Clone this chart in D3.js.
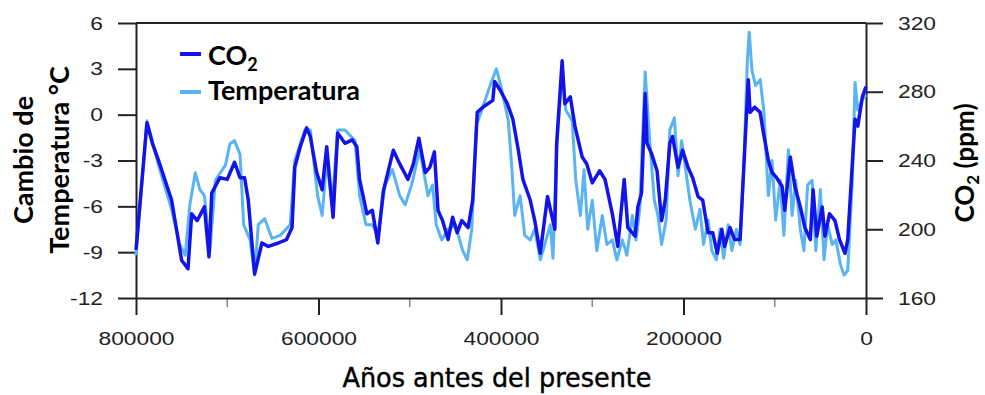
<!DOCTYPE html>
<html>
<head>
<meta charset="utf-8">
<script src="https://cdn.jsdelivr.net/npm/d3@7"></script>
<style>
  html, body { margin: 0; padding: 0; background: #fff; }
  svg { display: block; }
  .tick text { font-family: "Liberation Sans", Arial, sans-serif; font-size: 19px; fill: #222; }
  .title { font-family: Lato, "Open Sans", sans-serif; font-weight: 700; fill: #000; }
</style>
</head>
<body>
<div id="chart"></div>
<script>
// CO2 record (age in thousand years before present, ppm)
const co2Age = [800, 788, 782, 774, 766, 761, 755, 750, 743, 739, 733, 725, 720, 717, 708, 700, 692, 686, 681, 677,
  670, 662, 655, 644, 635, 629, 626, 620, 613, 609, 602, 596, 591, 584, 579, 571, 563, 558, 555, 547,
  541, 535, 529, 518, 511, 502, 496, 490, 483, 478, 473, 469, 464, 458, 453, 448, 443, 436, 431, 426,
  420, 409, 407, 401, 393, 387, 381, 376, 368, 363, 357, 349, 341, 339, 333, 330, 324, 319, 311, 306,
  300, 292, 286, 278, 272, 265, 261, 253, 250, 246, 242, 240, 235, 229, 224, 220, 215, 212, 206, 201,
  195, 190, 184, 179, 173, 168, 163, 158, 155, 149, 144, 138, 135, 129, 127, 122, 116, 113, 107, 103,
  98, 92, 89, 83, 78, 72, 67, 61, 58, 54, 48, 45, 40, 34, 29, 23, 20, 15, 12, 9, 4, 0];
const co2Ppm = [188, 262, 250, 238, 225, 217, 198, 182, 177, 209, 205, 213, 184, 221, 230, 229, 239, 230, 230, 217,
  174, 192, 190, 192, 194, 201, 236, 248, 259, 254, 233, 223, 248, 207, 256, 250, 252, 248, 229, 209,
  211, 192, 222, 246, 238, 229, 238, 253, 233, 236, 245, 211, 205, 194, 207, 198, 205, 201, 217, 268,
  271, 275, 286, 281, 273, 264, 246, 229, 217, 205, 186, 219, 200, 250, 298, 273, 277, 260, 242, 238,
  227, 234, 229, 209, 190, 229, 201, 196, 213, 221, 279, 250, 244, 234, 205, 217, 250, 254, 236, 246,
  236, 230, 219, 217, 198, 198, 186, 200, 190, 201, 194, 194, 225, 287, 268, 271, 268, 258, 240, 233,
  230, 225, 211, 242, 225, 213, 201, 194, 223, 196, 213, 196, 209, 205, 194, 186, 194, 238, 264, 260, 277, 283];

// Temperature anomaly record (age in thousand years before present, °C)
const tempAge = [800, 788, 774, 761, 752, 746, 741, 735, 730, 725, 719, 713, 702, 697, 692, 686, 682, 675, 670, 666,
  659, 651, 642, 631, 626, 615, 609, 601, 596, 591, 585, 579, 571, 560, 555, 548, 541, 535, 527, 519,
  511, 505, 498, 489, 480, 475, 471, 465, 458, 450, 442, 437, 432, 427, 421, 412, 405, 399, 392, 388,
  385, 379, 374, 368, 363, 357, 352, 346, 343, 339, 333, 329, 322, 318, 313, 309, 305, 300, 295, 289,
  284, 278, 273, 267, 262, 256, 252, 248, 242, 237, 232, 228, 224, 219, 215, 210, 206, 202, 196, 193,
  187, 182, 178, 173, 169, 164, 160, 156, 151, 147, 142, 138, 134, 130, 128, 125, 121, 116, 112, 107,
  103, 99, 94, 90, 85, 81, 77, 72, 68, 64, 59, 55, 50, 46, 42, 37, 33, 28, 24, 20, 15, 12, 9, 4, 0];
const tempAnom = [-9.2, -0.4, -3.6, -6.2, -8.5, -9.2, -5.9, -3.8, -4.9, -5.3, -8.9, -4.3, -3.3, -1.9, -1.7, -2.6, -7.2, -8.2, -10.5, -7.2,
  -6.8, -8.1, -7.9, -7.2, -3.0, -1.0, -1.0, -5.3, -6.6, -3.0, -5.9, -1.0, -1.0, -1.7, -5.3, -7.2, -7.2, -7.9, -4.6, -3.6,
  -5.3, -5.9, -4.6, -2.3, -5.3, -4.6, -7.2, -8.2, -7.5, -7.2, -8.9, -9.5, -7.5, -0.7, 0.3, 1.9, 3.0, 1.6, -0.4, -3.6,
  -6.6, -5.3, -7.9, -8.2, -7.5, -9.5, -8.5, -7.2, -9.4, -2.3, 2.9, 0.3, -0.4, -4.3, -6.6, -3.6, -7.5, -5.6, -8.9, -6.6,
  -8.5, -8.2, -9.5, -8.2, -9.2, -6.6, -8.2, -6.2, 2.8, -1.7, -5.6, -6.6, -8.5, -6.9, -1.0, -0.2, -4.0, -1.7, -4.3, -5.6,
  -7.5, -6.2, -8.5, -6.9, -8.9, -9.5, -7.5, -9.4, -7.2, -8.9, -7.5, -8.5, -3.6, 3.6, 5.4, 2.9, 1.9, 2.3, 0.3, -5.3,
  -3.0, -6.9, -4.3, -7.9, -2.3, -6.6, -4.3, -7.5, -8.9, -4.6, -4.3, -8.9, -4.9, -9.5, -7.2, -8.5, -8.2, -9.8, -10.5, -10.2, -4.3, 2.1, 0.3, 1.0, 1.3];

const xMajorTicks = [800000, 600000, 400000, 200000, 0];
const xMinorTicks = [700000, 500000, 300000, 100000];
const tempTicks = [-12, -9, -6, -3, 0, 3, 6];
const co2Ticks = [160, 200, 240, 280, 320];

const width = 985, height = 395;
const margin = { left: 136, right: 119, top: 23, bottom: 97 };
const innerRight = width - margin.right;
const innerBottom = height - margin.bottom;

const co2Color = "#1414e8";
const tempColor = "#5ab4f2";

const svg = d3.select("#chart").append("svg")
  .attr("width", width)
  .attr("height", height);

const x = d3.scaleLinear().domain([800000, 0]).range([margin.left, innerRight]);
const yTemp = d3.scaleLinear().domain([-12, 6]).range([innerBottom, margin.top]);
const yCo2 = d3.scaleLinear().domain([160, 320]).range([innerBottom, margin.top]);

// stretch tick labels a little horizontally to match the wide digits
function widen(sel, k) {
  sel.each(function() {
    const w = this.getComputedTextLength();
    this.setAttribute("textLength", w * k);
    this.setAttribute("lengthAdjust", "spacingAndGlyphs");
  });
}

// frame: top line
svg.append("line")
  .attr("x1", margin.left).attr("x2", innerRight)
  .attr("y1", margin.top).attr("y2", margin.top)
  .attr("stroke", "#222").attr("stroke-width", 2);

// minor x ticks
svg.append("g")
  .selectAll("line")
  .data(xMinorTicks)
  .join("line")
  .attr("x1", d => x(d)).attr("x2", d => x(d))
  .attr("y1", innerBottom).attr("y2", innerBottom + 9)
  .attr("stroke", "#888").attr("stroke-width", 1.5);

const xAxis = svg.append("g")
  .attr("transform", `translate(0,${innerBottom})`)
  .call(d3.axisBottom(x).tickValues(xMajorTicks).tickFormat(d => String(d)).tickSize(17).tickSizeOuter(0).tickPadding(17));

const leftAxis = svg.append("g")
  .attr("transform", `translate(${margin.left},0)`)
  .call(d3.axisLeft(yTemp).tickValues(tempTicks).tickFormat(d => String(d)).tickSize(18).tickSizeOuter(0).tickPadding(15));

const rightAxis = svg.append("g")
  .attr("transform", `translate(${innerRight},0)`)
  .call(d3.axisRight(yCo2).tickValues(co2Ticks).tickFormat(d => String(d)).tickSize(17).tickSizeOuter(0).tickPadding(15));

[xAxis, leftAxis, rightAxis].forEach(a => {
  a.selectAll("path.domain").attr("stroke", "#222").attr("stroke-width", 2);
  a.selectAll(".tick line").attr("stroke", "#222").attr("stroke-width", 2);
  a.selectAll(".tick text").attr("font-family", null).attr("font-size", null);
});
widen(xAxis.selectAll(".tick text"), 1.2);
widen(leftAxis.selectAll(".tick text"), 1.2);
widen(rightAxis.selectAll(".tick text"), 1.2);

// data lines
const tempData = tempAge.map((a, i) => ({ age: a * 1000, v: tempAnom[i] }));
const co2Data = co2Age.map((a, i) => ({ age: a * 1000, v: co2Ppm[i] }));

svg.append("path")
  .datum(tempData)
  .attr("fill", "none")
  .attr("stroke", tempColor)
  .attr("stroke-width", 3)
  .attr("stroke-linejoin", "round")
  .attr("d", d3.line().x(d => x(d.age)).y(d => yTemp(d.v)));

svg.append("path")
  .datum(co2Data)
  .attr("fill", "none")
  .attr("stroke", co2Color)
  .attr("stroke-width", 3.5)
  .attr("stroke-linejoin", "round")
  .attr("d", d3.line().x(d => x(d.age)).y(d => yCo2(d.v)));

// legend
const legend = svg.append("g");
legend.append("line").attr("x1", 180).attr("x2", 201).attr("y1", 54).attr("y2", 54)
  .attr("stroke", co2Color).attr("stroke-width", 4);
legend.append("line").attr("x1", 180).attr("x2", 201).attr("y1", 92).attr("y2", 92)
  .attr("stroke", tempColor).attr("stroke-width", 4);
const co2Label = legend.append("text").attr("class", "title")
  .attr("x", 208).attr("y", 65).attr("font-size", 27);
co2Label.append("tspan").text("CO");
co2Label.append("tspan").attr("font-size", 18).attr("dy", 6).text("2");
legend.append("text").attr("class", "title")
  .attr("x", 208).attr("y", 100).attr("font-size", 27)
  .text("Temperatura");

// axis titles
const leftTitle = svg.append("text").attr("class", "title")
  .attr("transform", "translate(33,160) rotate(-90)")
  .attr("text-anchor", "middle")
  .attr("font-size", 27);
leftTitle.append("tspan").attr("x", 0).attr("dy", 0).text("Cambio de");
leftTitle.append("tspan").attr("x", 0).attr("dy", 36).text("Temperatura °C");

const rightTitle = svg.append("text").attr("class", "title")
  .attr("transform", "translate(974,163) rotate(-90)")
  .attr("text-anchor", "middle")
  .attr("font-size", 26);
rightTitle.append("tspan").text("CO");
rightTitle.append("tspan").attr("font-size", 17).attr("dy", 5).text("2");
rightTitle.append("tspan").attr("dy", -5).text(" (ppm)");

svg.append("text")
  .attr("x", 497).attr("y", 387)
  .attr("text-anchor", "middle")
  .attr("font-family", "'Liberation Sans Narrow', 'DejaVu Sans Condensed', sans-serif")
  .attr("font-size", 27)
  .attr("textLength", 309)
  .attr("lengthAdjust", "spacingAndGlyphs")
  .attr("fill", "#000")
  .attr("stroke", "#000")
  .attr("stroke-width", 0.4)
  .text("Años antes del presente");
</script>
</body>
</html>
